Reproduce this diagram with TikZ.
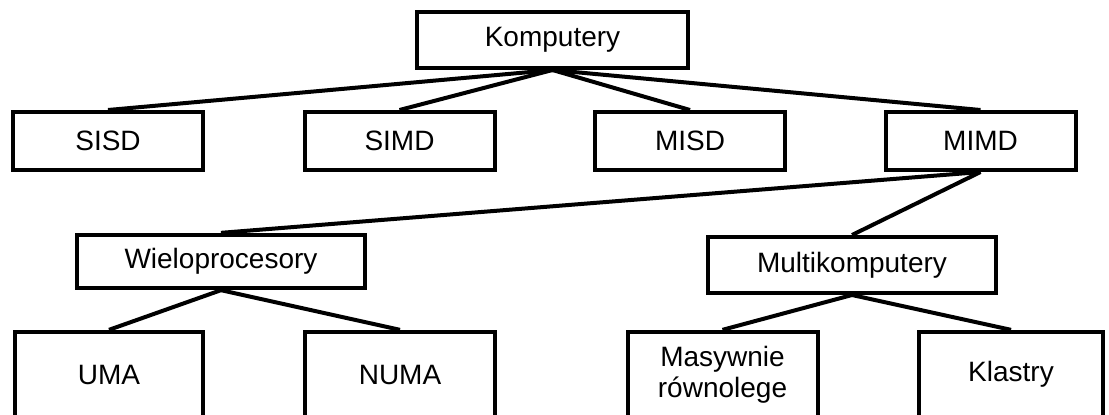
\documentclass[tikz,border=0pt]{standalone}
\usepackage{fontspec}
\setmainfont{Liberation Sans}
\begin{document}
\begin{tikzpicture}[x=0.75pt, y=-0.75pt,
  box/.style={draw, line width=3pt, minimum width=142.5pt, minimum height=43.5pt,
    inner sep=0pt, align=center, font=\fontsize{21}{23.5}\selectfont},
  link/.style={line width=3pt}]
\path[use as bounding box, clip] (0,0) rectangle (1109,414);
\node[box, minimum width=203pt, minimum height=42pt] (komp) at (552.5,40) {Komputery};
\node[box] (sisd) at (108,141) {SISD};
\node[box] (simd) at (399.5,141) {SIMD};
\node[box] (misd) at (690,141) {MISD};
\node[box] (mimd) at (980.5,141) {MIMD};
\node[box, minimum width=216pt, minimum height=40pt] (wielo) at (221,261.5) {Wieloprocesory};
\node[box, minimum width=216pt, minimum height=42pt] (multi) at (852,265) {Multikomputery};
\node[box, minimum width=141pt, minimum height=64pt] (uma) at (109,374.5) {UMA};
\node[box, minimum height=64pt] (numa) at (400,374.5) {NUMA};
\node[box, minimum height=64pt] (masyw) at (722.5,374.5) {Masywnie\\równolege};
\node[box, minimum width=138pt, minimum height=64pt] (klast) at (1011,374.5) {Klastry};
\draw[link] (komp.south) -- (sisd.north);
\draw[link] (komp.south) -- (simd.north);
\draw[link] (komp.south) -- (misd.north);
\draw[link] (komp.south) -- (mimd.north);
\draw[link] (mimd.south) -- (wielo.north);
\draw[link] (mimd.south) -- (multi.north);
\draw[link] (wielo.south) -- (uma.north);
\draw[link] (wielo.south) -- (numa.north);
\draw[link] (multi.south) -- (masyw.north);
\draw[link] (multi.south) -- (klast.north);
\end{tikzpicture}
\end{document}
